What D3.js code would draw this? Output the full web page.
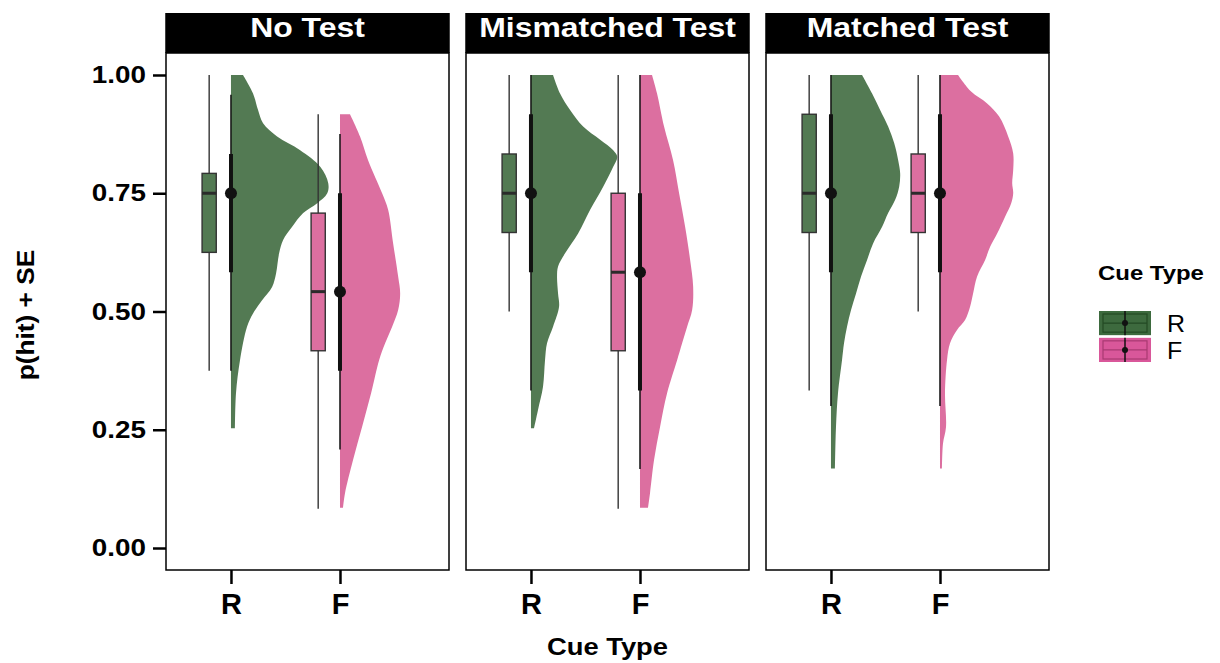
<!DOCTYPE html>
<html>
<head>
<meta charset="utf-8">
<script src="https://cdn.jsdelivr.net/npm/d3@7"></script>
<style>
  html, body { margin: 0; padding: 0; background: #fff; }
  svg { display: block; font-family: "Liberation Sans", Arial, sans-serif; }
</style>
</head>
<body>
<svg id="chart" width="1220" height="663"></svg>
<script>
// ---- data -------------------------------------------------------------
const panels = ["No Test", "Mismatched Test", "Matched Test"];
const cueTypes = ["R", "F"];
const yTicks = [0, 0.25, 0.5, 0.75, 1.0];
const yTickLabels = ["0.00", "0.25", "0.50", "0.75", "1.00"];

// boxplot stats per panel: [lower whisker, q1, median, q3, upper whisker]
const boxR = [
  [0.375, 0.625, 0.75, 0.792, 1.0],
  [0.50, 0.667, 0.75, 0.833, 1.0],
  [0.333, 0.667, 0.75, 0.917, 1.0]
];
const boxF = [
  [0.083, 0.417, 0.542, 0.708, 0.917],
  [0.083, 0.417, 0.583, 0.75, 1.0],
  [0.50, 0.667, 0.75, 0.833, 1.0]
];

// point summaries per panel: [outer low, inner low, centre, inner high, outer high]
const summaryR = [
  [0.375, 0.583, 0.75, 0.833, 0.958],
  [0.333, 0.583, 0.75, 0.917, 1.0],
  [0.30, 0.583, 0.75, 0.917, 1.0]
];
const summaryF = [
  [0.208, 0.375, 0.542, 0.75, 0.875],
  [0.167, 0.333, 0.583, 0.75, 1.0],
  [0.30, 0.583, 0.75, 0.917, 1.0]
];

// half-violin densities: [p(hit), relative density]
const densNoTestR = [
  [1.000, 0.12], [0.961, 0.22], [0.926, 0.27], [0.898, 0.32], [0.870, 0.46],
  [0.841, 0.69], [0.806, 0.89], [0.771, 0.97], [0.750, 0.96], [0.729, 0.86],
  [0.708, 0.72], [0.679, 0.61], [0.651, 0.52], [0.623, 0.48], [0.581, 0.45],
  [0.552, 0.41], [0.524, 0.31], [0.496, 0.22], [0.468, 0.16], [0.397, 0.09],
  [0.327, 0.05], [0.253, 0.04]
];
const densNoTestF = [
  [0.917, 0.10], [0.870, 0.20], [0.820, 0.28], [0.750, 0.42], [0.715, 0.48],
  [0.644, 0.53], [0.574, 0.58], [0.538, 0.60], [0.503, 0.58], [0.468, 0.52],
  [0.433, 0.45], [0.397, 0.39], [0.327, 0.31], [0.256, 0.22], [0.186, 0.13],
  [0.116, 0.05], [0.085, 0.03]
];
const densMismatchR = [
  [1.000, 0.22], [0.961, 0.29], [0.926, 0.39], [0.891, 0.52], [0.863, 0.69],
  [0.841, 0.82], [0.827, 0.86], [0.806, 0.82], [0.764, 0.72], [0.715, 0.59],
  [0.665, 0.47], [0.623, 0.34], [0.595, 0.27], [0.574, 0.26], [0.538, 0.27],
  [0.510, 0.28], [0.468, 0.22], [0.433, 0.16], [0.397, 0.14], [0.341, 0.12],
  [0.292, 0.07], [0.253, 0.03]
];
const densMismatchF = [
  [1.000, 0.12], [0.961, 0.17], [0.891, 0.24], [0.820, 0.33], [0.750, 0.39],
  [0.679, 0.45], [0.609, 0.50], [0.553, 0.53], [0.503, 0.52], [0.468, 0.47],
  [0.433, 0.42], [0.397, 0.37], [0.327, 0.27], [0.256, 0.20], [0.186, 0.14],
  [0.116, 0.10], [0.085, 0.08]
];
const densMatchR = [
  [1.000, 0.31], [0.961, 0.41], [0.926, 0.49], [0.891, 0.57], [0.856, 0.63],
  [0.820, 0.67], [0.792, 0.69], [0.764, 0.68], [0.736, 0.64], [0.708, 0.57],
  [0.679, 0.51], [0.644, 0.42], [0.609, 0.36], [0.574, 0.30], [0.538, 0.25],
  [0.503, 0.20], [0.468, 0.16], [0.433, 0.13], [0.397, 0.11], [0.327, 0.07],
  [0.256, 0.05], [0.168, 0.04]
];
const densMatchF = [
  [1.000, 0.18], [0.965, 0.31], [0.940, 0.47], [0.912, 0.59], [0.870, 0.68],
  [0.834, 0.73], [0.799, 0.73], [0.771, 0.72], [0.750, 0.73], [0.729, 0.71],
  [0.701, 0.65], [0.665, 0.57], [0.637, 0.50], [0.609, 0.45], [0.574, 0.37],
  [0.538, 0.33], [0.510, 0.30], [0.482, 0.25], [0.461, 0.17], [0.433, 0.10],
  [0.397, 0.07], [0.327, 0.05], [0.256, 0.06], [0.221, 0.03], [0.168, 0.02]
];

const densities = [
  [densNoTestR, densNoTestF],
  [densMismatchR, densMismatchF],
  [densMatchR, densMatchF]
];
const boxes = [boxR, boxF];
const summaries = [summaryR, summaryF];

// ---- layout & styling ---------------------------------------------------
const colors = { R: "#537a53", F: "#dc6fa0" };
const keyColors = { R: "#3d6a3e", F: "#d9579a" };
const keyLine = { R: "#234a24", F: "#a83a72" };

const panelW = 283, panelGap = 17, firstLeft = 166;
const plotTop = 53, plotBottom = 570, stripH = 40;
const boxOffset = -0.2, boxHalf = 0.065, violinSpan = 0.92;
const stretch = 1.14;   // horizontal widening of the heading type

const svg = d3.select("#chart");

// text placed at (tx, ty), widened along its reading direction
function label(parent, tx, ty, str, opts) {
  const g = parent.append("g")
    .attr("transform", `translate(${tx},${ty})` + (opts.rotate ? ` rotate(${opts.rotate})` : ""));
  const t = g.append("text")
    .attr("transform", `scale(${opts.sx || stretch},1)`)
    .attr("text-anchor", opts.anchor || "start")
    .attr("font-size", opts.size)
    .attr("font-weight", opts.bold ? "bold" : "normal")
    .attr("fill", opts.fill || "#000")
    .text(str);
  return t;
}

const y = d3.scaleLinear().domain([-0.0465, 1.0465]).range([plotBottom, plotTop]);
const x = d3.scaleLinear().domain([0.404, 3.0]).range([0, panelW]);

const violinArea = d3.area()
  .y(d => y(d[0]))
  .x0(0)
  .x1(d => x(x.domain()[0] + d[1] * violinSpan))
  .curve(d3.curveCatmullRom.alpha(0.5));

panels.forEach((name, p) => {
  const left = firstLeft + p * (panelW + panelGap);
  const g = svg.append("g").attr("transform", `translate(${left},0)`);

  // violins (right half only)
  cueTypes.forEach((c, ci) => {
    g.append("path")
      .datum(densities[p][ci])
      .attr("transform", `translate(${x(ci + 1)},0)`)
      .attr("d", violinArea)
      .attr("fill", colors[c]);
  });

  // boxplots
  cueTypes.forEach((c, ci) => {
    const [lo, q1, med, q3, hi] = boxes[ci][p];
    const bx = ci + 1 + boxOffset;
    g.append("line")
      .attr("x1", x(bx)).attr("x2", x(bx))
      .attr("y1", y(hi)).attr("y2", y(lo))
      .attr("stroke", "#333").attr("stroke-width", 1.4);
    g.append("rect")
      .attr("x", x(bx - boxHalf)).attr("width", x(bx + boxHalf) - x(bx - boxHalf))
      .attr("y", y(q3)).attr("height", y(q1) - y(q3))
      .attr("fill", colors[c]).attr("stroke", "#333").attr("stroke-width", 1.4);
    g.append("line")
      .attr("x1", x(bx - boxHalf)).attr("x2", x(bx + boxHalf))
      .attr("y1", y(med)).attr("y2", y(med))
      .attr("stroke", "#2a2a2a").attr("stroke-width", 3);
  });

  // point summaries
  cueTypes.forEach((c, ci) => {
    const [o1, i1, mid, i2, o2] = summaries[ci][p];
    const px = x(ci + 1);
    g.append("line")
      .attr("x1", px).attr("x2", px).attr("y1", y(o2)).attr("y2", y(o1))
      .attr("stroke", "#111").attr("stroke-width", 1.5);
    g.append("line")
      .attr("x1", px).attr("x2", px).attr("y1", y(i2)).attr("y2", y(i1))
      .attr("stroke", "#111").attr("stroke-width", 4);
    g.append("circle")
      .attr("cx", px).attr("cy", y(mid)).attr("r", 6)
      .attr("fill", "#111");
  });

  // panel border
  g.append("rect")
    .attr("x", 0).attr("y", plotTop).attr("width", panelW).attr("height", plotBottom - plotTop)
    .attr("fill", "none").attr("stroke", "#000").attr("stroke-width", 1.5);

  // facet strip
  g.append("rect")
    .attr("x", -0.75).attr("y", plotTop - stripH).attr("width", panelW + 1.5).attr("height", stripH)
    .attr("fill", "#000");
  label(g, panelW / 2, plotTop - 16, name, { anchor: "middle", size: 28, bold: true, fill: "#fff" });

  // x axis
  const xAxis = d3.axisBottom(x)
    .tickValues([1, 2])
    .tickFormat((d, i) => cueTypes[i])
    .tickSize(14).tickPadding(9);
  const ax = g.append("g").attr("transform", `translate(0,${plotBottom})`).call(xAxis);
  ax.select(".domain").remove();
  ax.selectAll(".tick line").attr("stroke", "#000").attr("stroke-width", 2.5);
  ax.selectAll(".tick text")
    .attr("fill", "#000").attr("font-size", 29).attr("font-weight", "bold")
    .attr("font-family", "Liberation Sans, Arial, sans-serif");
});

// y axis
const ySx = 1.16;
const yAxis = d3.axisLeft(y)
  .tickValues(yTicks)
  .tickFormat((d, i) => yTickLabels[i])
  .tickSize(13).tickPadding(7);
const ay = svg.append("g").attr("transform", `translate(${firstLeft},0)`).call(yAxis);
ay.select(".domain").remove();
ay.selectAll(".tick line").attr("stroke", "#000").attr("stroke-width", 2.5);
ay.selectAll(".tick text")
  .attr("fill", "#000").attr("font-size", 24).attr("font-weight", "bold")
  .attr("font-family", "Liberation Sans, Arial, sans-serif")
  .attr("x", -20 / ySx)
  .attr("transform", `scale(${ySx},1)`);

// axis titles
label(svg, firstLeft + (3 * panelW + 2 * panelGap) / 2, 655, "Cue Type",
  { anchor: "middle", size: 24, bold: true });
label(svg, 34, 315, "p(hit) + SE",
  { anchor: "middle", size: 23, bold: true, rotate: -90 });

// legend
const legend = svg.append("g").attr("transform", "translate(1098,0)");
label(legend, 0, 280, "Cue Type", { size: 21, bold: true });
const keyY = d3.scaleBand().domain(cueTypes).range([311, 362]).paddingInner(0.1);
cueTypes.forEach(c => {
  const k = legend.append("g").attr("transform", `translate(1,${keyY(c)})`);
  const kw = 52, kh = keyY.bandwidth();
  k.append("rect").attr("width", kw).attr("height", kh).attr("fill", keyColors[c]);
  k.append("rect").attr("x", 4).attr("y", 3).attr("width", kw - 8).attr("height", kh - 6)
    .attr("fill", "none").attr("stroke", keyLine[c]).attr("stroke-width", 1.2);
  k.append("line").attr("x1", 4).attr("x2", kw - 4).attr("y1", kh / 2).attr("y2", kh / 2)
    .attr("stroke", keyLine[c]).attr("stroke-width", 1.2);
  k.append("line").attr("x1", kw / 2).attr("x2", kw / 2).attr("y1", 0).attr("y2", kh)
    .attr("stroke", "#111").attr("stroke-width", 1.5);
  k.append("circle").attr("cx", kw / 2).attr("cy", kh / 2).attr("r", 3).attr("fill", "#111");
  label(legend, 69, keyY(c) + kh / 2 + 9, c, { size: 24, sx: 1.04 });
});
</script>
</body>
</html>
